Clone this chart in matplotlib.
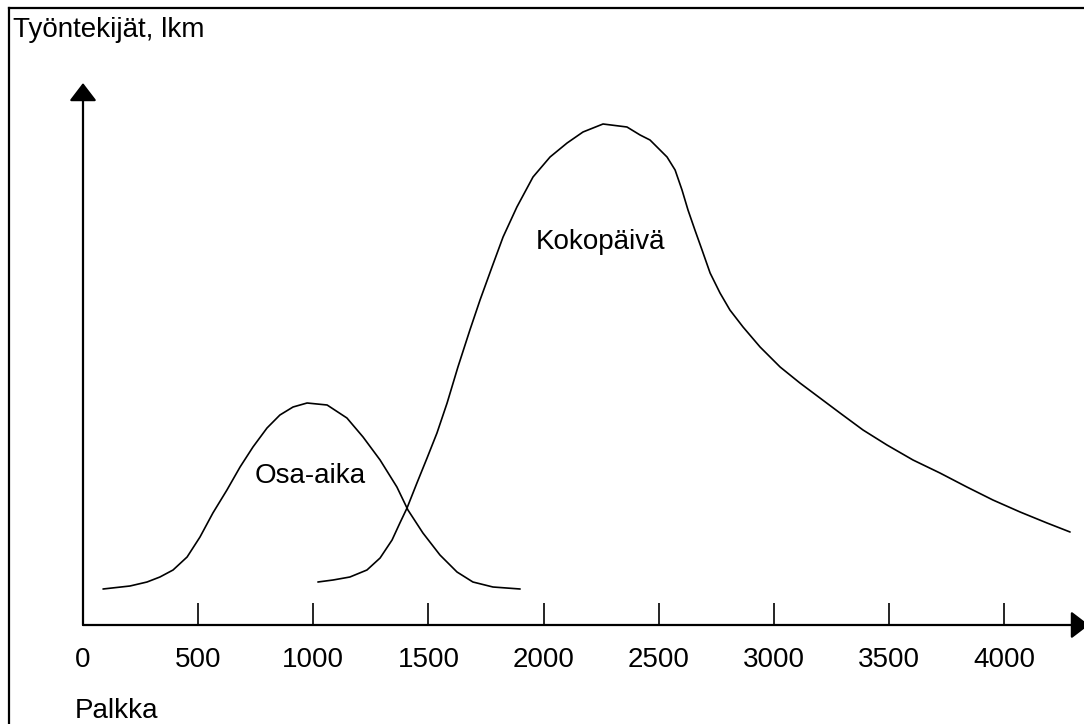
import matplotlib.pyplot as plt
from matplotlib.lines import Line2D

# Osa-aika (part time) distribution
osa_x = [87, 204, 278, 334, 391, 452, 508, 564, 625, 682, 738, 799, 855, 912,
         973, 1060, 1146, 1216, 1290, 1363, 1411, 1476, 1550, 1624, 1693, 1780, 1898]
osa_y = [36, 39, 43, 48, 55, 68, 88, 112, 135, 158, 178, 197, 210, 218,
         222, 220, 207, 188, 165, 138, 115, 92, 70, 53, 43, 38, 36]

# Kokopäivä (full time) distribution
koko_x = [1020, 1086, 1159, 1233, 1290, 1342, 1376, 1407, 1450, 1494, 1537,
          1581, 1628, 1680, 1724, 1776, 1824, 1884, 1954, 2028, 2102, 2171,
          2258, 2362, 2419, 2462, 2536, 2571, 2601, 2627, 2657, 2688, 2723,
          2766, 2809, 2866, 2940, 3027, 3113, 3200, 3287, 3387, 3491, 3604,
          3721, 3838, 3951, 4069, 4186, 4286]
koko_y = [43, 45, 48, 55, 67, 85, 102, 117, 142, 167, 192,
          222, 258, 295, 325, 358, 388, 418, 448, 468, 482, 493,
          501, 498, 490, 485, 468, 455, 435, 415, 395, 375, 352,
          332, 315, 298, 278, 258, 242, 227, 212, 195, 180, 165,
          152, 138, 125, 113, 102, 93]

ticks = [0, 500, 1000, 1500, 2000, 2500, 3000, 3500, 4000]
tick_labels = [str(t) for t in ticks]

W, H = 1084, 724
plt.rcParams['font.family'] = ['Liberation Sans', 'DejaVu Sans']

fig = plt.figure(figsize=(W / 100, H / 100), dpi=100)
# axes origin at pixel (83, 625), top at pixel 83
ax = fig.add_axes([83 / W, (H - 625) / H, (W - 83) / W, (625 - 83) / H])
ax.set_xlim(0, (W - 83) / 0.2303)
ax.set_ylim(0, 625 - 83)
for s in ax.spines.values():
    s.set_visible(False)

ax.plot(osa_x, osa_y, color='black', lw=1.2, solid_joinstyle='round', solid_capstyle='round')
ax.plot(koko_x, koko_y, color='black', lw=1.2, solid_joinstyle='round', solid_capstyle='round')

# axes with arrow heads
arrow = dict(arrowstyle='-|>,head_length=0.55,head_width=0.42', mutation_scale=20,
             color='black', lw=1.6, shrinkA=0, shrinkB=0)
ax.annotate('', xy=(0, 1), xycoords='axes fraction', xytext=(0, 0),
            textcoords='axes fraction', arrowprops=arrow, annotation_clip=False)
ax.annotate('', xy=(1.005, 0), xycoords='axes fraction', xytext=(0, 0),
            textcoords='axes fraction', arrowprops=arrow, annotation_clip=False)

ax.set_xticks(ticks)
ax.set_xticklabels(tick_labels, fontsize=20)
ax.tick_params(axis='x', direction='in', length=16, width=1.2, pad=16)
ax.set_yticks([])

ax.text(986, 149, 'Osa-aika', fontsize=20, ha='center', va='center')
ax.text(2245, 383, 'Kokopäivä', fontsize=20, ha='center', va='center')

fig.text(13 / W, 1 - 37 / H, 'Työntekijät, lkm', fontsize=20, ha='left', va='baseline')
fig.text(75 / W, 1 - 718 / H, 'Palkka', fontsize=20, ha='left', va='baseline')

# frame around the picture (only top and left visible)
fig.add_artist(Line2D([9 / W, 1], [1 - 8 / H, 1 - 8 / H], color='black', lw=1.6,
                      transform=fig.transFigure))
fig.add_artist(Line2D([9 / W, 9 / W], [0, 1 - 8 / H], color='black', lw=1.6,
                      transform=fig.transFigure))

fig.savefig('out.png', dpi=100)
